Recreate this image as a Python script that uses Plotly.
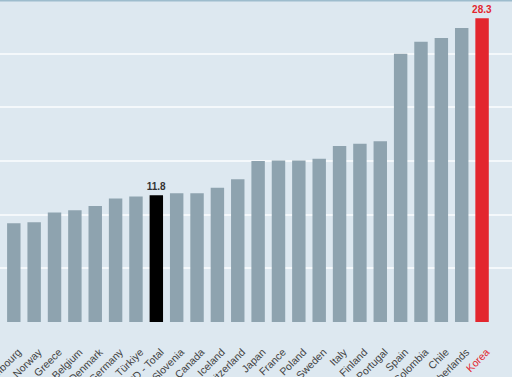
import plotly.graph_objects as go

countries = ["Luxembourg", "Norway", "Greece", "Belgium", "Denmark", "Germany", "Türkiye",
             "OECD - Total", "Slovenia", "Canada", "Iceland", "Switzerland", "Japan", "France",
             "Poland", "Sweden", "Italy", "Finland", "Portugal", "Spain", "Colombia", "Chile",
             "Netherlands", "Korea"]
values = [9.2, 9.3, 10.2, 10.4, 10.8, 11.5, 11.7, 11.8, 12.0, 12.0, 12.5, 13.3, 15.0, 15.05,
          15.05, 15.2, 16.4, 16.6, 16.85, 25.0, 26.1, 26.45, 27.4, 28.3]
labels = ["", "", "", "", "", "", "", "11.8", "", "", "", "", "", "", "", "", "", "", "", "",
          "", "", "", "28.3"]

GREY = "#8ea3af"
RED = "#e3262e"
BG = "#dde8f0"

colors = []
for c in countries:
    if c == "Korea":
        colors.append(RED)
    elif c == "OECD - Total":
        colors.append("#000000")
    else:
        colors.append(GREY)

text_colors = [RED if c == "Korea" else "#333333" for c in countries]
ticktext = [f'<span style="color:{RED}">{c}</span>' if c == "Korea" else c for c in countries]
positions = list(range(len(countries)))

fig = go.Figure(go.Bar(
    x=positions,
    y=values,
    marker=dict(color=colors, line=dict(width=0)),
    width=0.66,
    text=labels,
    textposition="outside",
    constraintext="none",
    textfont=dict(family="Liberation Sans", size=10, color=text_colors),
    texttemplate="<b>%{text}</b>",
    cliponaxis=False,
))

fig.add_shape(type="line", xref="paper", yref="y", x0=0, x1=1, y0=30, y1=30,
              line=dict(color="#9dbccd", width=3))

fig.update_layout(
    width=512, height=377,
    margin=dict(l=0, r=0, t=0, b=55),
    paper_bgcolor=BG, plot_bgcolor=BG,
    showlegend=False,
    font=dict(family="Liberation Sans", size=10, color="#333333"),
    xaxis=dict(
        range=[-0.678, 24.47],
        tickmode="array",
        tickvals=[p + 0.22 for p in positions],
        ticktext=ticktext,
        tickangle=-45,
        tickfont=dict(size=10.5, color="#444444"),
        showgrid=False, zeroline=False, showline=False,
        ticks="", ticklabelstandoff=21,
        ticklabeloverflow="allow",
        automargin=False,
    ),
    yaxis=dict(
        range=[0, 30],
        tickvals=[0, 5, 10, 15, 20, 25, 30],
        showticklabels=False,
        showgrid=True, gridcolor="#f4f8fb", gridwidth=1.5,
        zeroline=False, showline=False, automargin=False,
    ),
)

fig.write_html("out.html", config={"displayModeBar": False},
               post_script="document.body.style.margin='0';document.body.style.background='" + BG + "';")
